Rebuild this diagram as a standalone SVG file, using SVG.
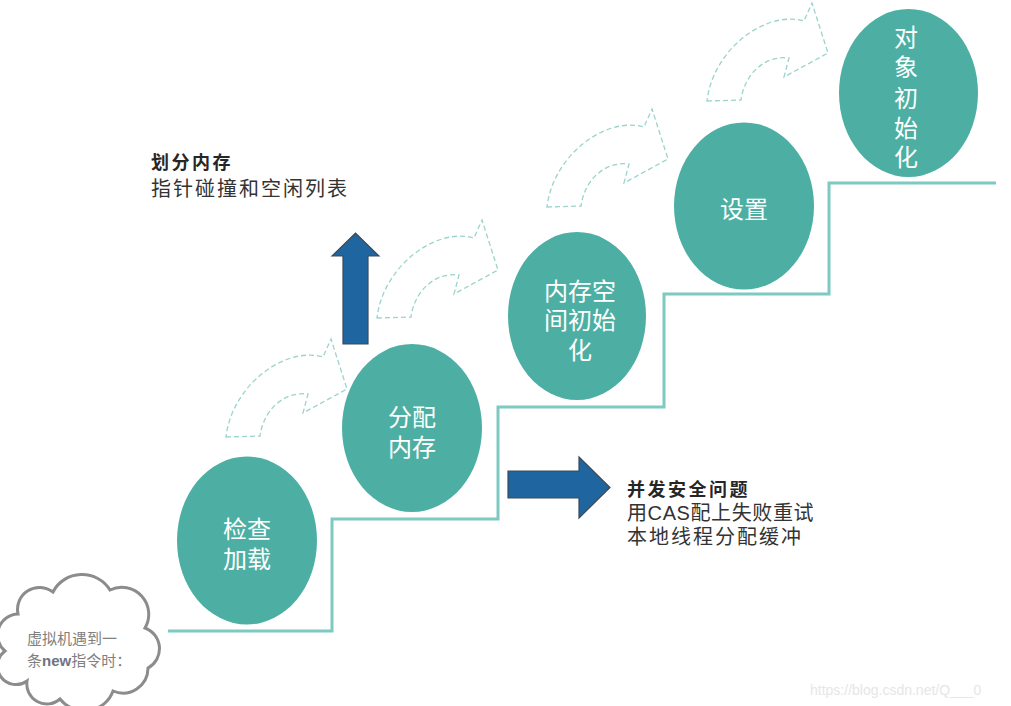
<svg xmlns="http://www.w3.org/2000/svg" width="1011" height="706" viewBox="0 0 1011 706">
<style>
.node{fill:#4DAFA3}
.nt{font-family:"Liberation Sans","Noto Sans CJK SC",sans-serif;font-size:24px;fill:#ffffff;text-anchor:middle}
.step{fill:none;stroke:#7ECAC2;stroke-width:3}
.curl{fill:none;stroke:#9AD4CC;stroke-width:1.3;stroke-dasharray:5 3}
.blue{fill:#1F65A0;stroke:#3A4A5A;stroke-width:1.2}
.h{font-weight:bold;fill:#262626;font-size:18px;letter-spacing:2.5px}
.t{font-family:"Liberation Sans","Noto Sans CJK SC",sans-serif;font-size:20px;fill:#333333;letter-spacing:2px}
.cloudtxt{font-family:"Liberation Sans","Noto Sans CJK SC",sans-serif;font-size:15px;fill:#808080}
</style>
<defs>
<path id="curl" d="M0,0 L34,-1 C37,-25 56,-46 82,-43 L77,-24 L121,-48 L105,-98 L97,-80 C59,-91 6,-52 0,0 Z"/>
</defs>
<rect width="1011" height="706" fill="#ffffff"/>
<g id="connectors">
<path class="step" d="M168,631 H332 V519 H498 V407 H664 V294 H829 V183 H996"/>
<use href="#curl" class="curl" transform="translate(226,437)"/>
<use href="#curl" class="curl" transform="translate(377,318)"/>
<use href="#curl" class="curl" transform="translate(547,207)"/>
<use href="#curl" class="curl" transform="translate(707,101)"/>
</g>
<g id="start">
<path d="M18,614 A22,22 0 0 1 53,592 A32,30 0 0 1 110,590 A27,27 0 0 1 145,628 A22,22 0 0 1 148,668 A25,25 0 0 1 113,691 A30,28 0 0 1 60,699 A20,20 0 0 1 27,681 A18,18 0 0 1 5,651 A21,21 0 0 1 18,614 Z" fill="#ffffff" stroke="#8C8C8C" stroke-width="3"/>
<text class="cloudtxt" x="27" y="644">虚拟机遇到一<tspan x="27" dy="22">条</tspan><tspan font-weight="bold" fill="#6E7480">new</tspan>指令时：</text>
</g>
<g id="n1">
<ellipse class="node" cx="247" cy="540.5" rx="70" ry="84"/>
<text class="nt" x="247" y="538">检查<tspan x="247" dy="30">加载</tspan></text>
</g>
<g id="n2">
<ellipse class="node" cx="412" cy="428" rx="70" ry="84"/>
<text class="nt" x="412" y="426">分配<tspan x="412" dy="30">内存</tspan></text>
</g>
<g id="n3">
<ellipse class="node" cx="577" cy="316" rx="69" ry="84"/>
<text class="nt" x="580" y="300">内存空<tspan x="580" dy="29">间初始</tspan><tspan x="580" dy="30">化</tspan></text>
</g>
<g id="n4">
<ellipse class="node" cx="744" cy="206" rx="70" ry="83.5"/>
<text class="nt" x="744" y="218">设置</text>
</g>
<g id="n5">
<ellipse class="node" cx="908.5" cy="93" rx="69.5" ry="84"/>
<text class="nt" x="906" y="46">对<tspan x="906" dy="30">象</tspan><tspan x="906" dy="31">初</tspan><tspan x="906" dy="30">始</tspan><tspan x="906" dy="29">化</tspan></text>
</g>
<g id="up-arrow">
<polygon class="blue" points="343,344 343,256 332,256 355.5,233 379,256 368,256 368,344"/>
</g>
<g id="right-arrow">
<polygon class="blue" points="508,471 579,471 579,457 610,487.5 579,518 579,498 508,498"/>
</g>
<g id="note-divide">
<text class="t" x="151" y="169"><tspan class="h">划分内存</tspan><tspan x="151" dy="27">指针碰撞和空闲列表</tspan></text>
</g>
<g id="note-concurrency">
<text class="t" x="627" y="496"><tspan class="h">并发安全问题</tspan><tspan x="627" dy="24" letter-spacing="0.6">用CAS配上失败重试</tspan><tspan x="627" dy="24">本地线程分配缓冲</tspan></text>
</g>
<text x="810" y="695" font-family="Liberation Sans, Arial, sans-serif" font-size="14" fill="#E6E6E6">https://blog.csdn.net/Q___0</text>
</svg>
